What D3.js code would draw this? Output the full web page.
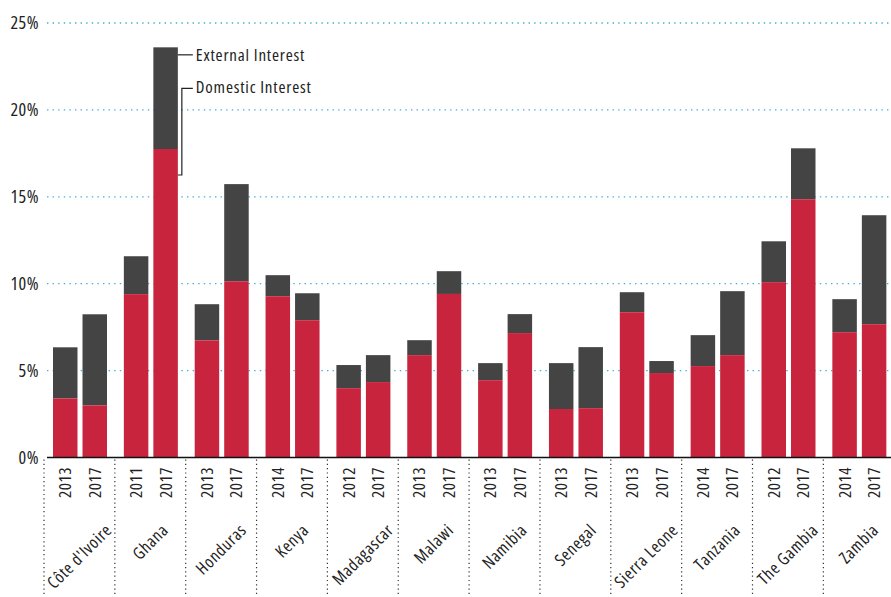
<!DOCTYPE html>
<head>
  <meta charset="utf-8" />
  <script src="https://cdn.jsdelivr.net/npm/d3@7"></script>
  <style>
    body { margin: 0; background: #fff; }
    svg text { font-family: "Open Sans", sans-serif; font-stretch: 75%; fill: #222; letter-spacing: 0.5px; }
    svg text.ann { letter-spacing: 0.8px; }
  </style>
</head>
<body>
  <svg class="chart" width="891" height="597"></svg>
  <script>
    const countries = ["Côte d'Ivoire", "Ghana", "Honduras", "Kenya", "Madagascar", "Malawi", "Namibia", "Senegal", "Sierra Leone", "Tanzania", "The Gambia", "Zambia"];
    const years = [
      ["2013", "2017"], ["2011", "2017"], ["2013", "2017"], ["2014", "2017"],
      ["2012", "2017"], ["2013", "2017"], ["2013", "2017"], ["2013", "2017"],
      ["2013", "2017"], ["2014", "2017"], ["2012", "2017"], ["2014", "2017"]
    ];
    // domestic interest, % (two bars per country)
    const domestic = [
      [3.4, 3.0], [9.4, 17.75], [6.74, 10.14], [9.28, 7.9],
      [3.99, 4.34], [5.89, 9.41], [4.45, 7.16], [2.79, 2.84],
      [8.36, 4.86], [5.26, 5.89], [10.09, 14.86], [7.21, 7.67]
    ];
    // total interest (domestic + external), %
    const total = [
      [6.34, 8.24], [11.58, 23.6], [8.82, 15.73], [10.49, 9.45],
      [5.32, 5.89], [6.75, 10.72], [5.43, 8.25], [5.43, 6.35],
      [9.51, 5.55], [7.04, 9.57], [12.44, 17.79], [9.11, 13.94]
    ];
    const yTicks = [0, 5, 10, 15, 20, 25];

    const red = "#c8243d";
    const grey = "#444444";
    const svg = d3.select(".chart");

    const x0 = d3.scaleBand().domain(countries).range([44, 44 + 12 * 70.85]);
    const x1 = d3.scaleBand().domain([0, 1]).range([9, 63]).paddingInner(0.17);
    const y = d3.scaleLinear().domain([0, 25]).range([457.5, 23]);

    // gridlines + tick labels
    svg.append("g")
      .selectAll("line")
      .data(yTicks.filter((t) => t > 0))
      .enter()
      .append("line")
      .attr("x1", 47)
      .attr("x2", 891)
      .attr("y1", (d) => y(d))
      .attr("y2", (d) => y(d))
      .attr("stroke", "#3fb0d8")
      .attr("stroke-width", 1.3)
      .attr("stroke-dasharray", "1.4,4.2");

    svg.append("g")
      .selectAll("text")
      .data(yTicks)
      .enter()
      .append("text")
      .attr("x", 39)
      .attr("y", (d) => y(d))
      .attr("dy", "0.35em")
      .attr("text-anchor", "end")
      .attr("font-size", "18px")
      .text((d) => d + "%");

    // bars
    const rows = [];
    countries.forEach((c, i) => {
      [0, 1].forEach((j) => rows.push({ c, j, year: years[i][j], dom: domestic[i][j], tot: total[i][j] }));
    });

    const bars = svg.append("g").selectAll("g").data(rows).enter().append("g");
    bars.append("rect")
      .attr("x", (d) => x0(d.c) + x1(d.j))
      .attr("width", x1.bandwidth())
      .attr("y", (d) => y(d.tot))
      .attr("height", (d) => y(d.dom) - y(d.tot))
      .attr("fill", grey);
    bars.append("rect")
      .attr("x", (d) => x0(d.c) + x1(d.j))
      .attr("width", x1.bandwidth())
      .attr("y", (d) => y(d.dom))
      .attr("height", (d) => y(0) - y(d.dom))
      .attr("fill", red);

    // baseline
    svg.append("line")
      .attr("x1", 47).attr("x2", 891)
      .attr("y1", y(0)).attr("y2", y(0))
      .attr("stroke", "#111").attr("stroke-width", 1.5);

    // group separators
    svg.append("g")
      .selectAll("line")
      .data(countries)
      .enter()
      .append("line")
      .attr("x1", (d) => x0(d))
      .attr("x2", (d) => x0(d))
      .attr("y1", y(0) + 2)
      .attr("y2", 597)
      .attr("stroke", "#333")
      .attr("stroke-width", 1.2)
      .attr("stroke-dasharray", "1.2,3.1");

    // year labels
    svg.append("g")
      .selectAll("text")
      .data(rows)
      .enter()
      .append("text")
      .attr("transform", (d) => `translate(${x0(d.c) + x1(d.j) + x1.bandwidth() / 2},467) rotate(-90)`)
      .attr("dy", "0.35em")
      .attr("text-anchor", "end")
      .attr("font-size", "17px")
      .text((d) => d.year);

    // country labels, rotated 45deg, box centered on group
    const cLabels = svg.append("g")
      .selectAll("text")
      .data(countries)
      .enter()
      .append("text")
      .attr("text-anchor", "middle")
      .attr("dy", "0.35em")
      .attr("font-size", "17px")
      .style("letter-spacing", "0.7px")
      .text((d) => d);
    cLabels.attr("transform", function (d) {
      const len = this.getComputedTextLength();
      const cx = x0(d) + x0.bandwidth() / 2;
      const cy = 522 + (len / 2) * Math.SQRT1_2 + 5;
      return `translate(${cx},${cy}) rotate(-45)`;
    });

    // annotation on Ghana 2017
    const gx = x0("Ghana") + x1(1) + x1.bandwidth();
    const ann = svg.append("g").attr("stroke", "#222").attr("stroke-width", 1.2).attr("fill", "none");
    const extY = y(total[1][1]) + 7.5;
    const domY = y(domestic[1][1]) + 26;
    const topY = extY + 33.5;
    ann.append("path").attr("d", `M${gx},${extY}H${gx + 15}`);
    ann.append("path").attr("d", `M${gx},${domY}H${gx + 4}V${topY}H${gx + 15}`);
    svg.append("text").attr("class", "ann").attr("x", gx + 18).attr("y", extY).attr("dy", "0.35em").attr("font-size", "17px").text("External Interest");
    svg.append("text").attr("class", "ann").attr("x", gx + 18).attr("y", topY).attr("dy", "0.3em").attr("font-size", "17px").text("Domestic Interest");
  </script>
</body>
